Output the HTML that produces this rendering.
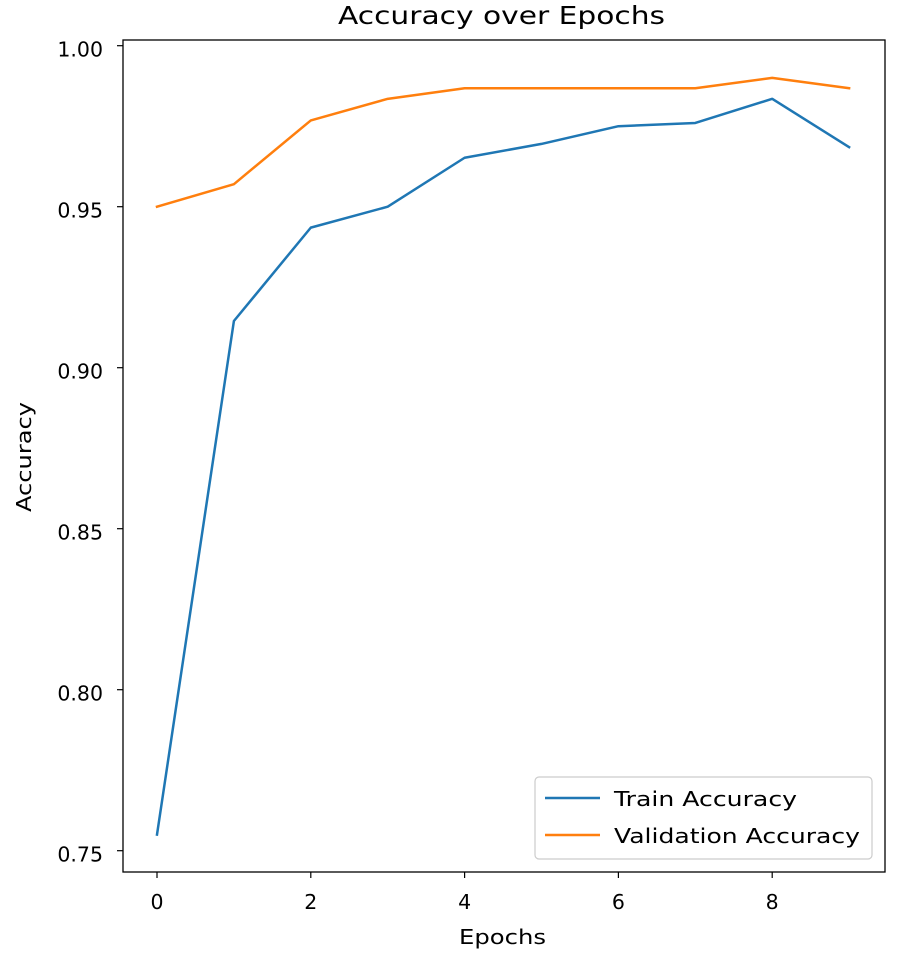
<!DOCTYPE html>
<html><head><meta charset="utf-8"><style>
body{margin:0;background:#fff;}
svg text{font-family:"DejaVu Sans","Liberation Sans",sans-serif;fill:#000;}
</style></head><body>
<svg id="chart" width="922" height="958" xmlns="http://www.w3.org/2000/svg">
<rect x="123" y="40" width="762" height="832" fill="none" stroke="#000" stroke-width="1.3"/>
<text x="338" y="24" font-size="24.5" textLength="327" lengthAdjust="spacingAndGlyphs">Accuracy over Epochs</text>
<text x="459" y="944" font-size="20.5" textLength="87" lengthAdjust="spacingAndGlyphs">Epochs</text>
<text transform="translate(31,512) rotate(-90)" font-size="20.5" textLength="110" lengthAdjust="spacingAndGlyphs">Accuracy</text>
<g id="ticks"></g>
<g id="lines"></g>
<g>
<rect x="535" y="777" width="337" height="82" rx="4" fill="#fff" stroke="#ccc" stroke-width="1.2"/>
<line x1="545" y1="798" x2="600" y2="798" stroke="#1f77b4" stroke-width="2.5"/>
<text x="614" y="806" font-size="20.5" textLength="183" lengthAdjust="spacingAndGlyphs">Train Accuracy</text>
<line x1="545" y1="835" x2="600" y2="835" stroke="#ff7f0e" stroke-width="2.5"/>
<text x="614" y="843" font-size="20.5" textLength="246" lengthAdjust="spacingAndGlyphs">Validation Accuracy</text>
</g>
</svg>
<script>
const epochs=[0,1,2,3,4,5,6,7,8,9];
const trainAcc=[0.755,0.9145,0.9435,0.950,0.9652,0.9695,0.975,0.976,0.9835,0.9685];
const valAcc=[0.950,0.957,0.9768,0.9835,0.9868,0.9868,0.9868,0.9868,0.990,0.9868];
const xTicks=[0,2,4,6,8];
const yTicks=[0.75,0.80,0.85,0.90,0.95,1.00];
const yTickLabels=["0.75","0.80","0.85","0.90","0.95","1.00"];
const X=v=>157+v*76.9;
const Y=v=>45.7+(1.0-v)*3220;
const NS="http://www.w3.org/2000/svg";
const tg=document.getElementById('ticks'),lg=document.getElementById('lines');
function mk(t,a,p){const e=document.createElementNS(NS,t);for(const k in a)e.setAttribute(k,a[k]);p.appendChild(e);return e;}
xTicks.forEach(v=>{
 const l=mk('line',{x1:X(v),x2:X(v),y1:872,y2:878,stroke:'#000','stroke-width':1.2},tg);
 
 
 const t=mk('text',{x:X(v),y:909,'font-size':20.5,'text-anchor':'middle'},tg);t.textContent=v;
 
 
});
yTicks.forEach((v,i)=>{
 const l=mk('line',{x1:117,x2:123,y1:Y(v),y2:Y(v),stroke:'#000','stroke-width':1.2},tg);
 
 
 const t=mk('text',{x:103,y:Y(v)+11,'font-size':20.5,'text-anchor':'end'},tg);t.textContent=yTickLabels[i];
 
 
});
function series(arr,color,name){
 const p=mk('polyline',{points:arr.map((v,i)=>X(epochs[i])+','+Y(v)).join(' '),fill:'none',stroke:color,'stroke-width':2.5,'stroke-linejoin':'round','stroke-linecap':'square'},lg);
 
 
}
series(trainAcc,'#1f77b4','train-accuracy-line');
series(valAcc,'#ff7f0e','validation-accuracy-line');
</script>
</body></html>
